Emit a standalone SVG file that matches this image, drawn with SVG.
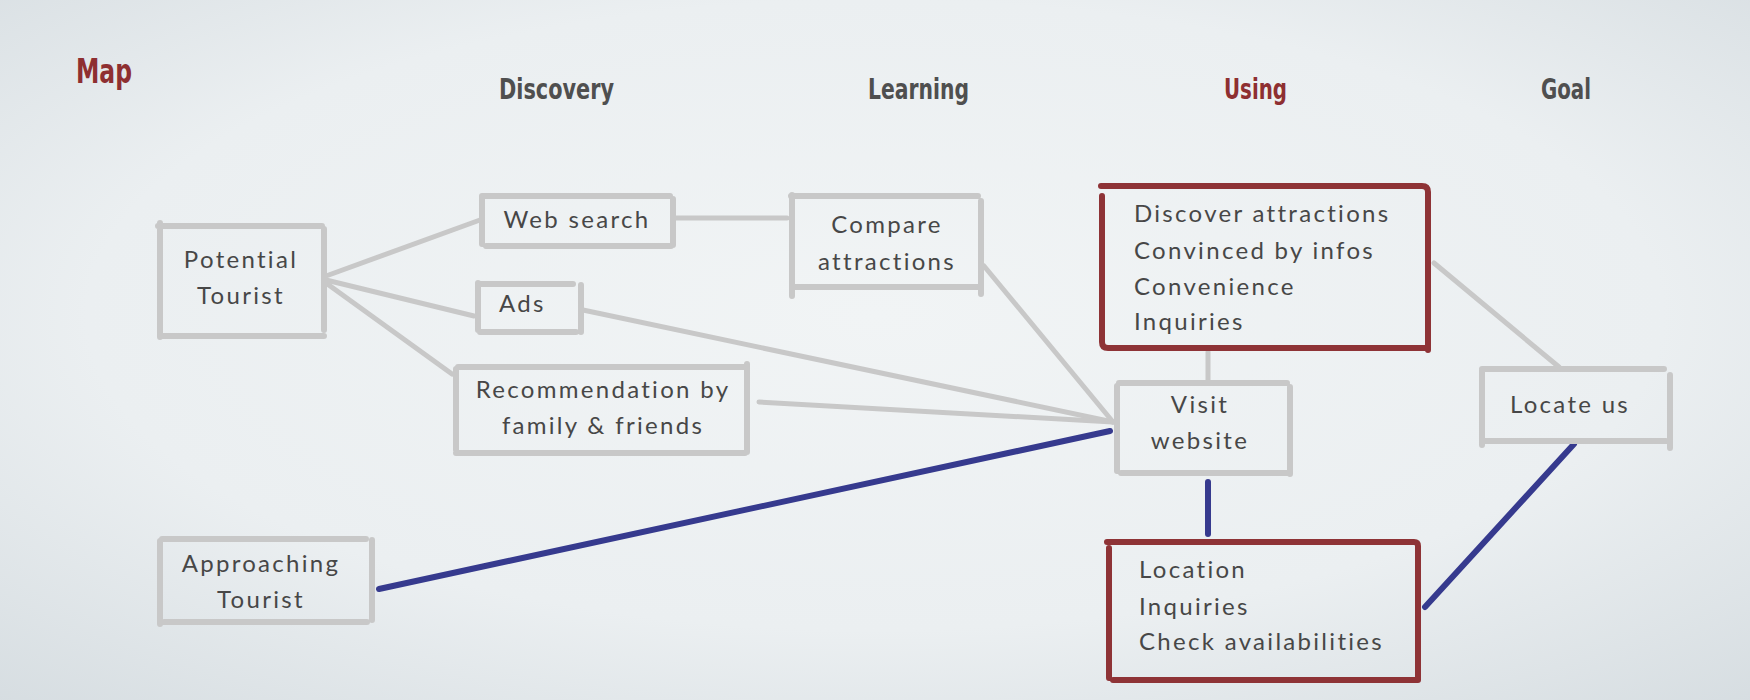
<svg xmlns="http://www.w3.org/2000/svg" width="1750" height="700" viewBox="0 0 1750 700">
<defs>
<radialGradient id="bg" cx="50%" cy="45%" r="75%">
<stop offset="0" stop-color="#f1f4f5"/>
<stop offset="0.6" stop-color="#ebeff1"/>
<stop offset="1" stop-color="#d6dde1"/>
</radialGradient>
</defs>
<style>
.title{font-family:"DejaVu Sans Condensed","Liberation Sans Narrow",sans-serif;font-weight:bold;font-size:29px;fill:#4f4f4f}
.red{fill:#8e2f31}
.t{font-family:Lato,"Open Sans",sans-serif;font-size:24px;letter-spacing:2.3px;fill:#474747}
.c{text-anchor:middle}
.box{fill:none;stroke:#c8c8c8;stroke-width:6;stroke-linecap:round}
.rbox{fill:none;stroke:#8e3336;stroke-width:6;stroke-linecap:round;stroke-linejoin:round}
.g{stroke:#c8c8c8;stroke-width:5;stroke-linecap:round;fill:none}
.b{stroke:#363a8e;stroke-width:6;stroke-linecap:round;fill:none}
</style>
<rect width="1750" height="700" fill="url(#bg)"/>

<g id="headers">
<text class="title red" x="76" y="83" style="font-size:34px" textLength="56" lengthAdjust="spacingAndGlyphs">Map</text>
<text class="title" x="499" y="99" textLength="115" lengthAdjust="spacingAndGlyphs">Discovery</text>
<text class="title" x="868" y="99" textLength="101" lengthAdjust="spacingAndGlyphs">Learning</text>
<text class="title red" x="1224" y="99" textLength="63" lengthAdjust="spacingAndGlyphs">Using</text>
<text class="title" x="1541" y="99" textLength="50" lengthAdjust="spacingAndGlyphs">Goal</text>
</g>

<g id="connectors">
<line class="g" x1="326" y1="276" x2="480" y2="220"/>
<line class="g" x1="326" y1="280" x2="474" y2="316"/>
<line class="g" x1="326" y1="283" x2="452" y2="374"/>
<line class="g" x1="675" y1="218" x2="787" y2="218"/>
<line class="g" x1="583" y1="310" x2="1113" y2="422"/>
<line class="g" x1="759" y1="402" x2="1113" y2="422"/>
<line class="g" x1="984" y1="266" x2="1113" y2="422"/>
<line class="g" x1="1208" y1="352" x2="1208" y2="381"/>
<line class="g" x1="1434" y1="263" x2="1559" y2="367"/>
<line class="b" x1="379" y1="589" x2="1110" y2="431"/>
<line class="b" x1="1208" y1="482" x2="1208" y2="534"/>
<line class="b" x1="1425" y1="607" x2="1574" y2="444"/>
</g>

<g id="potential-tourist">
<path class="box" d="M158,226 H322 M324,229 V330 M324,336 H162 M160,337 V223"/>
<text class="t c" x="241" y="268">Potential</text>
<text class="t c" x="241" y="304">Tourist</text>
</g>

<g id="web-search">
<path class="box" d="M483,196 H670 M673,199 V245 M671,246 H486 M482,244 V196"/>
<text class="t c" x="577" y="228">Web search</text>
</g>

<g id="ads">
<path class="box" d="M478,284 H573 M581,285 V332 M576,332 H480 M478,330 V283"/>
<text class="t" x="499" y="312">Ads</text>
</g>

<g id="recommendation">
<path class="box" d="M458,367 H744 M747,364 V452 M745,453 H456 M456,450 V369"/>
<text class="t c" x="603" y="398">Recommendation by</text>
<text class="t c" x="603" y="434">family &amp; friends</text>
</g>

<g id="compare-attractions">
<path class="box" d="M791,196 H978 M981,201 V294 M979,287 H795 M792,296 V195"/>
<text class="t c" x="887" y="233">Compare</text>
<text class="t c" x="887" y="270">attractions</text>
</g>

<g id="using-needs">
<path class="rbox" d="M1101,186 H1422 Q1428,186 1428,192 V350 M1428,348 H1108 Q1102,348 1102,342 V196"/>
<text class="t" x="1134" y="222">Discover attractions</text>
<text class="t" x="1134" y="259">Convinced by infos</text>
<text class="t" x="1134" y="295">Convenience</text>
<text class="t" x="1134" y="330">Inquiries</text>
</g>

<g id="visit-website">
<path class="box" d="M1119,383 H1287 M1290,387 V474 M1287,473 H1121 M1117,471 V386"/>
<text class="t c" x="1200" y="413">Visit</text>
<text class="t c" x="1200" y="449">website</text>
</g>

<g id="locate-us">
<path class="box" d="M1482,369 H1664 M1670,375 V448 M1666,441 H1484 M1482,445 V370"/>
<text class="t c" x="1570" y="413">Locate us</text>
</g>

<g id="approaching-tourist">
<path class="box" d="M162,539 H366 M372,540 V620 M367,622 H164 M160,624 V541"/>
<text class="t c" x="261" y="572">Approaching</text>
<text class="t c" x="261" y="608">Tourist</text>
</g>

<g id="using-location">
<path class="rbox" d="M1107,542 H1414 Q1418,542 1418,546 V680 M1416,680 H1113 M1109,678 V548"/>
<text class="t" x="1139" y="578">Location</text>
<text class="t" x="1139" y="615">Inquiries</text>
<text class="t" x="1139" y="650">Check availabilities</text>
</g>
</svg>
